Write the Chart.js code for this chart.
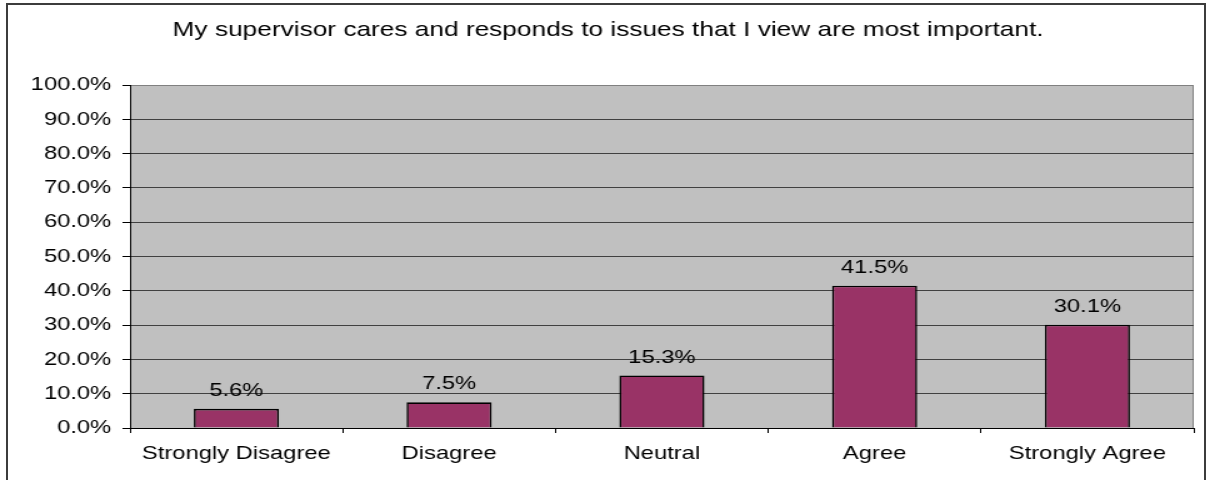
<!DOCTYPE html>
<html>
<head>
<meta charset="utf-8">
<script src="https://cdn.jsdelivr.net/npm/chart.js@4/dist/chart.umd.min.js"></script>
<style>
  body { margin: 0; background: #fff; }
  #frame {
    position: absolute; left: 6px; top: 3px;
    width: 1196px; height: 500px;
    border: 2px solid #3c3c3c;
  }
  #wrap {
    position: absolute; left: 0; top: 0;
    width: 965px; height: 480px;
    transform: scaleX(1.25); transform-origin: 0 0;
  }
</style>
</head>
<body>
<div id="frame"></div>
<div id="wrap"><canvas id="surveyChart" width="965" height="480"></canvas></div>
<script>
// Survey answers (percent of respondents)
const categories = ['Strongly Disagree', 'Disagree', 'Neutral', 'Agree', 'Strongly Agree'];
const percents = [5.6, 7.5, 15.3, 41.5, 30.1];
const yTicks = [0, 10, 20, 30, 40, 50, 60, 70, 80, 90, 100];

const fontFamily = '"Liberation Sans", Arial, sans-serif';

// gray plot background with thin border, like the old excel charts
const plotBackground = {
    id: 'plotBackground',
    beforeDraw(chart) {
        const { ctx, chartArea: a } = chart;
        ctx.save();
        ctx.fillStyle = '#c0c0c0';
        ctx.fillRect(a.left, a.top, a.right - a.left, a.bottom - a.top);
        ctx.strokeStyle = '#808080';
        ctx.lineWidth = 1;
        ctx.strokeRect(a.left + 0.5, a.top + 0.5, a.right - a.left - 1, a.bottom - a.top);
        ctx.restore();
    }
};

// value labels above each bar
const barLabels = {
    id: 'barLabels',
    afterDatasetsDraw(chart) {
        const ctx = chart.ctx;
        const meta = chart.getDatasetMeta(0);
        ctx.save();
        ctx.font = '19px ' + fontFamily;
        ctx.fillStyle = '#000';
        ctx.textAlign = 'center';
        ctx.textBaseline = 'alphabetic';
        meta.data.forEach((bar, i) => {
            ctx.fillText(percents[i].toFixed(1) + '%', bar.x, bar.y - 13);
        });
        ctx.restore();
    }
};

let surveyChart = new Chart(document.getElementById('surveyChart'), {
    type: 'bar',
    data: {
        labels: categories,
        datasets: [{
            data: percents,
            backgroundColor: '#993366',
            borderColor: '#000',
            borderWidth: 1.6,
            categoryPercentage: 1,
            barPercentage: 0.4
        }]
    },
    options: {
        responsive: false,
        animation: false,
        devicePixelRatio: 1,
        layout: { padding: { left: 18, right: 10, top: 0, bottom: 0 } },
        plugins: {
            legend: { display: false },
            tooltip: { enabled: false },
            title: {
                display: true,
                text: 'My supervisor cares and responds to issues that I view are most important.',
                color: '#000',
                font: { family: fontFamily, size: 21, weight: 'normal', lineHeight: 1.2 },
                padding: { top: 18, bottom: 41.8 }
            }
        },
        scales: {
            x: {
                offset: true,
                grid: {
                    offset: true,
                    drawOnChartArea: false,
                    tickLength: 5,
                    color: '#000'
                },
                border: { display: true, color: '#000', width: 1 },
                ticks: {
                    color: '#000',
                    padding: 9,
                    maxRotation: 0,
                    font: { family: fontFamily, size: 19 }
                },
                afterFit(scale) { scale.height = 52; }
            },
            y: {
                min: 0,
                max: 100,
                afterBuildTicks(scale) {
                    scale.ticks = yTicks.map(v => ({ value: v }));
                },
                grid: {
                    color: ctx => (ctx.tick && ctx.tick.value === 100) ? '#808080' : '#404040',
                    tickColor: '#000',
                    tickLength: 6,
                    lineWidth: 1
                },
                border: { display: true, color: '#000', width: 1 },
                ticks: {
                    color: '#000',
                    padding: 9,
                    font: { family: fontFamily, size: 19 },
                    callback: v => v.toFixed(1) + '%'
                },
                afterFit(scale) { scale.width = 86; }
            }
        }
    },
    plugins: [plotBackground, barLabels]
});
</script>
</body>
</html>
